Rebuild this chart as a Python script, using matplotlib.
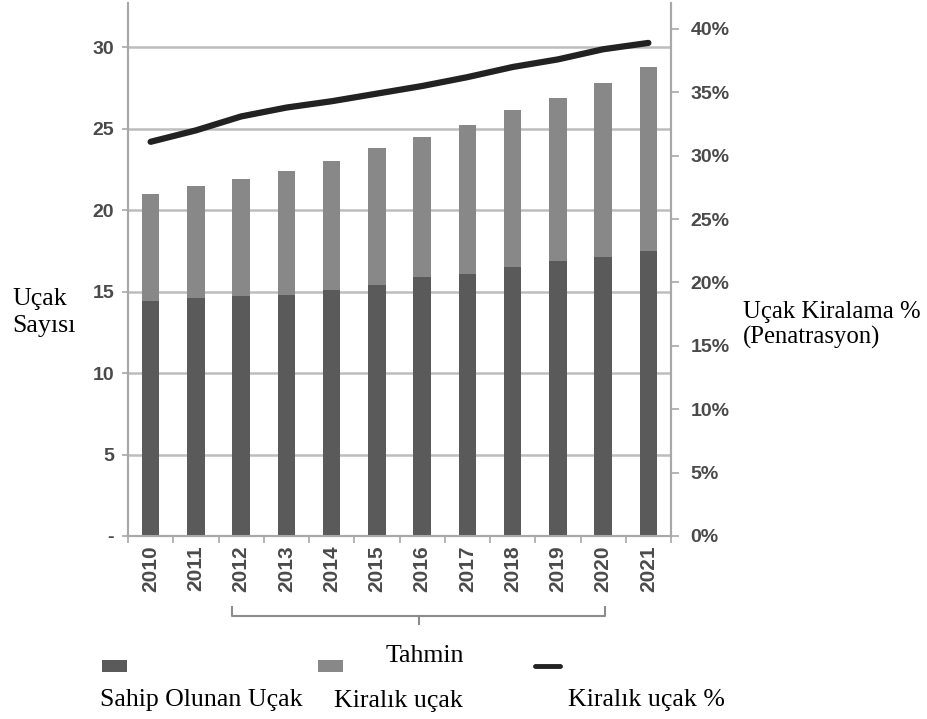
import matplotlib
matplotlib.use("Agg")
import matplotlib.pyplot as plt
import matplotlib.transforms as mtransforms
from matplotlib.lines import Line2D
from matplotlib.patches import Rectangle
import numpy as np

years = ["2010", "2011", "2012", "2013", "2014", "2015", "2016", "2017", "2018", "2019", "2020", "2021"]
owned = [14.4, 14.6, 14.7, 14.8, 15.1, 15.4, 15.9, 16.1, 16.5, 16.9, 17.1, 17.5]
total = [21.0, 21.5, 21.9, 22.4, 23.0, 23.8, 24.5, 25.2, 26.15, 26.9, 27.8, 28.8]
leased = [t - o for t, o in zip(total, owned)]
lease_pct = [31.1, 32.0, 33.1, 33.8, 34.3, 34.9, 35.5, 36.2, 37.0, 37.6, 38.4, 38.9]
left_ticks = [0, 5, 10, 15, 20, 25, 30]
left_labels = ["-", "5", "10", "15", "20", "25", "30"]
right_ticks = [0, 5, 10, 15, 20, 25, 30, 35, 40]
right_labels = ["0%", "5%", "10%", "15%", "20%", "25%", "30%", "35%", "40%"]

W, H = 928, 719
fig = plt.figure(figsize=(W / 100, H / 100), dpi=100)

def fx(px):
    return px / W

def fy(py):
    return 1 - py / H

ax_l, ax_r, ax_t, ax_b = 128, 671, 3, 536
ax = fig.add_axes([fx(ax_l), fy(ax_b), fx(ax_r - ax_l), (ax_b - ax_t) / H])
ax2 = ax.twinx()

c_owned = "#5a5a5a"
c_leased = "#888888"
c_line = "#222222"
c_grid = "#bdbdbd"
c_spine = "#a8a8a8"
c_tick = "#4a4a4a"
sans = ["Liberation Sans", "DejaVu Sans"]
serif = ["Liberation Serif", "DejaVu Serif"]
fs_serif = 18.6

x = np.arange(len(years))
bw = 0.39
ax.bar(x, owned, width=bw, color=c_owned, zorder=3)
ax.bar(x, leased, width=bw, bottom=owned, color=c_leased, zorder=3)
ax2.plot(x, lease_pct, color=c_line, lw=4.5, solid_capstyle="round", zorder=4)

ax.set_xlim(-0.5, len(years) - 0.5)
ax.set_ylim(0, 32.7)
ax2.set_ylim(0, 42.05)

ax.set_yticks(left_ticks)
ax.set_yticklabels(left_labels, fontfamily=sans, fontsize=14, color=c_tick, fontweight="bold")
ax2.set_yticks(right_ticks)
ax2.set_yticklabels(right_labels, fontfamily=sans, fontsize=14, color=c_tick, fontweight="bold")
ax.set_xticks(x)
ax.set_xticklabels(years, rotation=90, fontfamily=sans, fontsize=15, color=c_tick, fontweight="bold")
ax.set_xticks(np.arange(-0.5, len(years), 1.0), minor=True)

ax.tick_params(axis="x", which="major", length=0, pad=7)
ax.tick_params(axis="x", which="minor", length=5, color=c_spine, width=1.2)
ax.tick_params(axis="y", length=4, color=c_spine, width=1.2, pad=6)
ax2.tick_params(axis="y", length=6, color=c_spine, width=1.2, pad=8)

ax.yaxis.grid(True, color=c_grid, lw=1.8, zorder=0)
ax.set_axisbelow(True)
for a in (ax, ax2):
    a.spines["top"].set_visible(False)
    for s in ("left", "right", "bottom"):
        a.spines[s].set_color(c_spine)
        a.spines[s].set_linewidth(1.5)
ax.patch.set_visible(False)

# axis titles
fig.text(fx(12), fy(305), "Uçak", fontfamily=serif, fontsize=fs_serif, va="baseline", ha="left")
fig.text(fx(12), fy(332), "Sayısı", fontfamily=serif, fontsize=fs_serif, va="baseline", ha="left")
fig.text(fx(743), fy(318), "Uçak Kiralama %", fontfamily=serif, fontsize=17.8, va="baseline", ha="left")
fig.text(fx(743), fy(344), "(Penatrasyon)", fontfamily=serif, fontsize=17.8, va="baseline", ha="left")

# forecast bracket below the years 2012-2020
tr = mtransforms.blended_transform_factory(ax.transData, fig.transFigure)
b_left, b_right, b_mid = 1.8, 10.04, 5.92
c_br = "#8c8c8c"
fig.add_artist(Line2D([b_left, b_left, b_right, b_right],
                      [fy(607), fy(616), fy(616), fy(607)],
                      transform=tr, color=c_br, lw=1.5))
fig.add_artist(Line2D([b_mid, b_mid], [fy(616), fy(624)], transform=tr, color=c_br, lw=1.5))
fig.text(fx(386), fy(662), "Tahmin", fontfamily=serif, fontsize=fs_serif, va="baseline", ha="left")

# legend
fig.add_artist(Rectangle((fx(102), fy(672)), fx(25), 12 / H, transform=fig.transFigure,
                         color=c_owned, lw=0))
fig.add_artist(Rectangle((fx(318), fy(672)), fx(25), 12 / H, transform=fig.transFigure,
                         color=c_leased, lw=0))
fig.add_artist(Line2D([fx(535), fx(560)], [fy(666), fy(666)], transform=fig.transFigure,
                      color=c_line, lw=3.5, solid_capstyle="round"))
fig.text(fx(100), fy(706), "Sahip Olunan Uçak", fontfamily=serif, fontsize=fs_serif, va="baseline", ha="left")
fig.text(fx(334), fy(707), "Kiralık uçak", fontfamily=serif, fontsize=fs_serif, va="baseline", ha="left")
fig.text(fx(568), fy(706), "Kiralık uçak %", fontfamily=serif, fontsize=fs_serif, va="baseline", ha="left")

fig.savefig("out.png", dpi=100)
